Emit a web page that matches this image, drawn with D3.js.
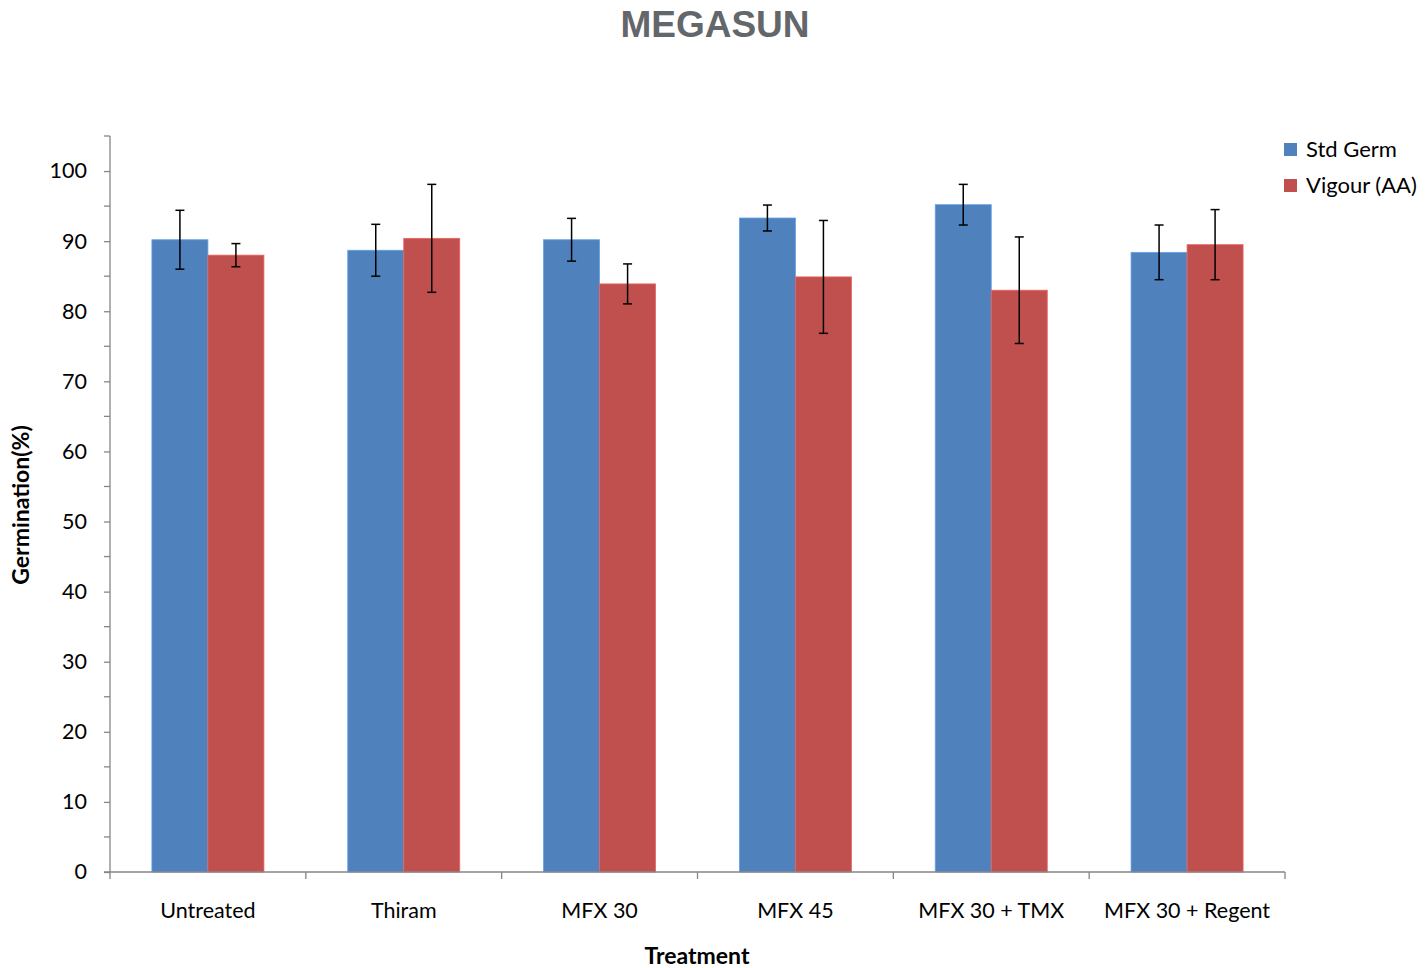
<!DOCTYPE html>
<html><head><meta charset="utf-8">
<script src="https://cdn.jsdelivr.net/npm/d3@7"></script>
<style>
body{margin:0;background:#fff;}
svg{display:block;}
</style></head>
<body>
<svg id="chart" width="1426" height="968"></svg>
<script>
const categories = ["Untreated","Thiram","MFX 30","MFX 45","MFX 30 + TMX","MFX 30 + Regent"];
const seriesNames = ["Std Germ","Vigour (AA)"];
const stdGerm = [90.2, 88.7, 90.2, 93.3, 95.2, 88.4];
const stdGermErr = [4.2, 3.7, 3.05, 1.85, 2.9, 3.9];
const vigour = [88.0, 90.4, 83.9, 84.9, 83.0, 89.5];
const vigourErr = [1.65, 7.7, 2.85, 8.05, 7.6, 5.0];
const yTicks = [0,10,20,30,40,50,60,70,80,90,100];
const colors = ["#4F81BD","#C0504D"];

const svg = d3.select("#chart");
const m = {left:110, right:1285, top:136, bottom:872};
const font = "Lato, 'Open Sans', sans-serif";

const x = d3.scaleBand().domain(categories).range([m.left, m.right]).paddingInner(0.428).paddingOuter(0.214);
const x0 = d3.scaleBand().domain(categories).range([m.left, m.right]);
const xs = d3.scaleBand().domain(seriesNames).range([0, x.bandwidth()]);
const y = d3.scaleLinear().domain([0,105]).range([m.bottom, m.top]);

const data = [];
categories.forEach((c,i)=>{
  data.push({c, s:seriesNames[0], v:stdGerm[i], e:stdGermErr[i], col:colors[0]});
  data.push({c, s:seriesNames[1], v:vigour[i], e:vigourErr[i], col:colors[1]});
});

// bars
svg.append("g").selectAll("rect").data(data).join("rect")
  .attr("x", d=>x(d.c)+xs(d.s))
  .attr("y", d=>y(d.v))
  .attr("width", xs.bandwidth())
  .attr("height", d=>y(0)-y(d.v))
  .attr("fill", d=>d.col)
  .attr("stroke", d=>d3.color(d.col).brighter(0.6))
  .attr("stroke-width", 0.8);

// error bars
const eg = svg.append("g").attr("stroke","#000").attr("stroke-width",1.5);
data.forEach(d=>{
  const cx = x(d.c)+xs(d.s)+xs.bandwidth()/2;
  eg.append("line").attr("x1",cx).attr("x2",cx).attr("y1",y(d.v+d.e)).attr("y2",y(d.v-d.e));
  eg.append("line").attr("x1",cx-4.5).attr("x2",cx+4.5).attr("y1",y(d.v+d.e)).attr("y2",y(d.v+d.e));
  eg.append("line").attr("x1",cx-4.5).attr("x2",cx+4.5).attr("y1",y(d.v-d.e)).attr("y2",y(d.v-d.e));
});

// y axis
const yAxis = d3.axisLeft(y).tickValues(yTicks).tickSize(6).tickPadding(17);
const ya = svg.append("g").attr("transform",`translate(${m.left},0)`).call(yAxis);
ya.select(".domain").attr("stroke","#868686").attr("stroke-width",1.3).attr("d",`M-0,${m.top}V${m.bottom}`);
ya.selectAll(".tick line").attr("stroke","#868686").attr("stroke-width",1.3);
ya.selectAll(".tick text").attr("font-family",font).attr("font-size",21.5).attr("fill","#000");
const minor = d3.range(5,106,10);
ya.selectAll(".minor").data(minor).join("line").attr("class","minor")
  .attr("x1",-6).attr("x2",0).attr("y1",d=>y(d)).attr("y2",d=>y(d))
  .attr("stroke","#868686").attr("stroke-width",1.3);

// x axis
const xa = svg.append("g").attr("transform",`translate(0,${m.bottom})`);
xa.append("line").attr("x1",m.left-6).attr("x2",m.right).attr("y1",0).attr("y2",0).attr("stroke","#868686").attr("stroke-width",1.3);
const bounds = categories.map(c=>x0(c)).concat([m.right]);
xa.selectAll(".xt").data(bounds).join("line").attr("class","xt")
  .attr("x1",d=>d).attr("x2",d=>d).attr("y1",0).attr("y2",7)
  .attr("stroke","#868686").attr("stroke-width",1.3);
xa.selectAll(".xl").data(categories).join("text").attr("class","xl")
  .attr("x",d=>x0(d)+x0.bandwidth()/2).attr("y",46)
  .attr("text-anchor","middle").attr("font-family",font).attr("font-size",21.5).attr("fill","#000")
  .text(d=>d);

// title
svg.append("text").attr("x",715).attr("y",37).attr("text-anchor","middle")
  .attr("font-family","'Liberation Sans', Arial, sans-serif").attr("font-weight","bold")
  .attr("font-size",37).attr("fill","#63666A").text("MEGASUN");

// axis titles
svg.append("text").attr("x",697).attr("y",964).attr("text-anchor","middle")
  .attr("font-family",font).attr("font-weight","bold").attr("font-size",23).attr("fill","#000").text("Treatment");
svg.append("text").attr("transform","translate(29,505) rotate(-90)").attr("text-anchor","middle")
  .attr("font-family",font).attr("font-weight","bold").attr("font-size",23).attr("fill","#000").text("Germination(%)");

// legend
const lg = svg.append("g");
seriesNames.forEach((s,i)=>{
  lg.append("rect").attr("x",1284).attr("y",143+i*36).attr("width",13).attr("height",13).attr("fill",colors[i]);
  lg.append("text").attr("x",1306).attr("y",157+i*36).attr("font-family",font).attr("font-size",22).attr("fill","#000").text(s);
});
</script>
</body></html>
